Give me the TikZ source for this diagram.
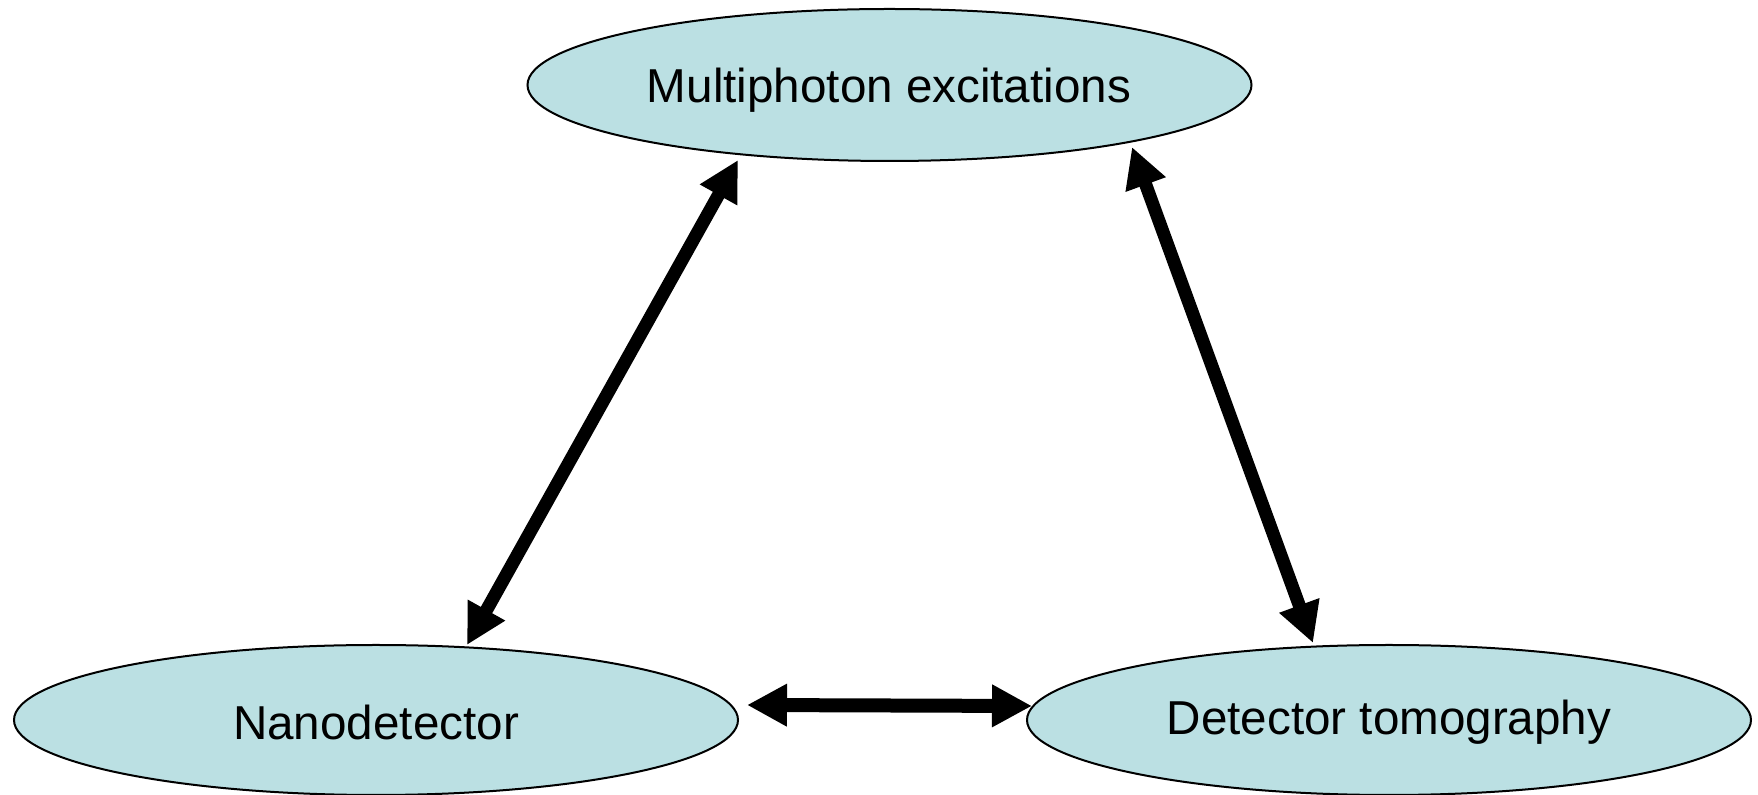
\documentclass[tikz,border=0pt]{standalone}
\usepackage{fontspec}
\setmainfont{Liberation Sans}
\usetikzlibrary{shapes.geometric,arrows.meta}
\definecolor{nodefill}{RGB}{187,224,227}
\tikzset{
  oval/.style={ellipse, draw=black, line width=1pt, fill=nodefill, inner sep=0pt,
    minimum width=362pt, minimum height=75pt, font=\fontsize{23.8pt}{28pt}\selectfont},
  link/.style={line width=6.5pt, {Triangle[length=20pt,width=20pt]}-{Triangle[length=20pt,width=20pt]}}
}
\begin{document}
\begin{tikzpicture}[x=0.5pt,y=-0.5pt]
\useasboundingbox (0,0) rectangle (1758,795);
\node[oval, minimum width=362pt, minimum height=76pt] (top) at (889.5,85) {};
\node at (889,90) (toptext) {\fontsize{23.8pt}{28pt}\selectfont Multiphoton excitations};
\node[oval] (left) at (376,720) {};
\node at (376,722) (lefttext) {\fontsize{23.8pt}{28pt}\selectfont Nanodetector};
\node[oval] (right) at (1389,720) {};
\node at (1389,722) (righttext) {\fontsize{23.8pt}{28pt}\selectfont Detector tomography};
\coordinate (a1) at (467,645);
\coordinate (a2) at (738,160);
\coordinate (b1) at (1132,147);
\coordinate (b2) at (1313,643);
\coordinate (c1) at (747,705);
\coordinate (c2) at (1032,706);
\draw[link] (a1) -- (a2);
\draw[link] (b1) -- (b2);
\draw[link, line width=7pt] (c1) -- (c2);
\end{tikzpicture}
\end{document}
